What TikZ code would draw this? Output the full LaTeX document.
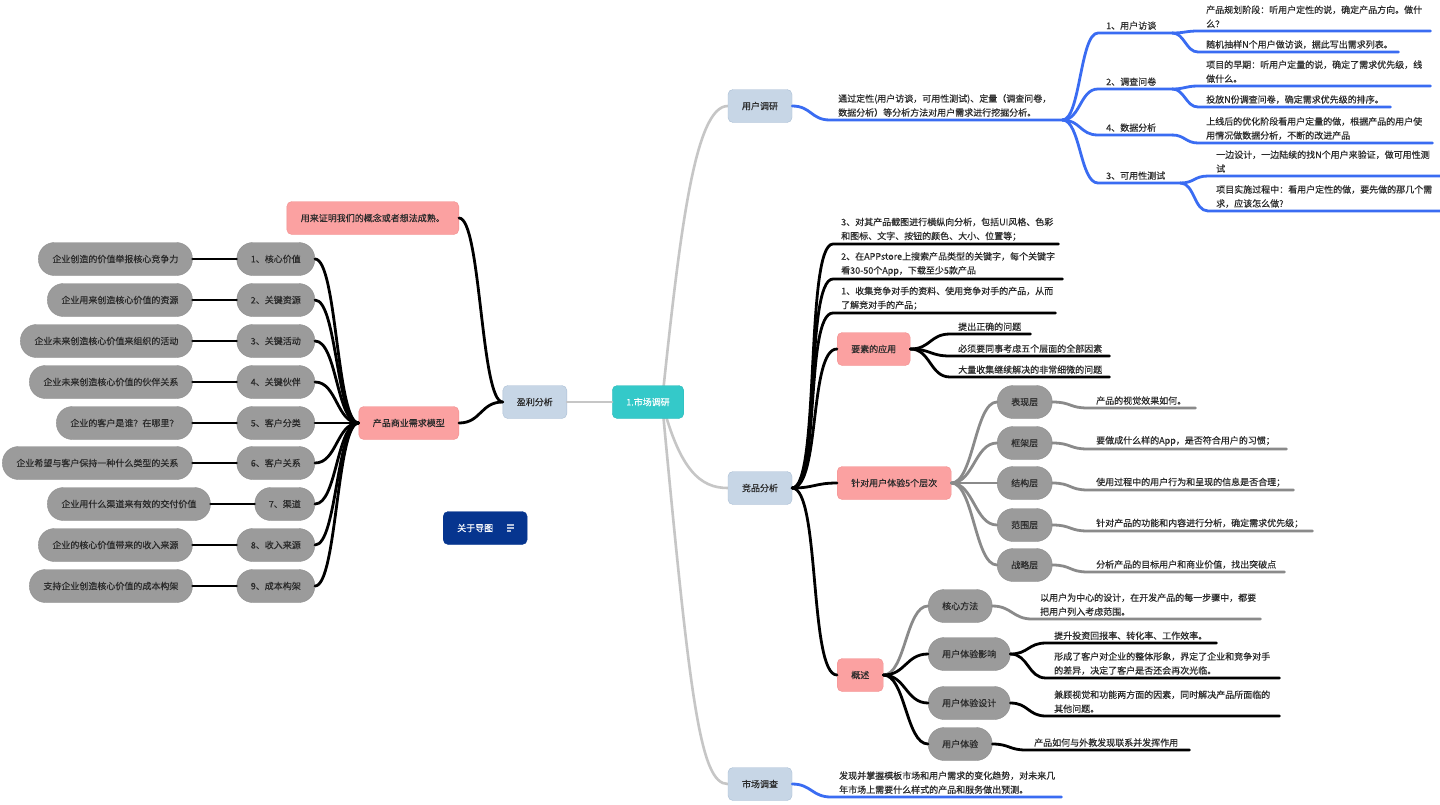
\documentclass[tikz,border=0pt]{standalone}
\usepackage{fontspec}
\setmainfont{Noto Sans CJK SC}[FakeBold=0.4]
\usetikzlibrary{positioning,backgrounds}

\definecolor{cTeal}{HTML}{34C9C9}
\definecolor{cTealE}{HTML}{2CB9B9}
\definecolor{cSlate}{HTML}{C7D6E6}
\definecolor{cSlateE}{HTML}{ABBFD5}
\definecolor{cPink}{HTML}{FBA1A1}
\definecolor{cPinkE}{HTML}{F28F8F}
\definecolor{cPill}{HTML}{9B9B9B}
\definecolor{cPillE}{HTML}{8E8E8E}
\definecolor{cNavy}{HTML}{06358F}
\definecolor{cBlue}{HTML}{3A6CF2}
\definecolor{cLight}{HTML}{C6C6C6}
\definecolor{cMid}{HTML}{8A8A8A}
\definecolor{cText}{HTML}{2B2B2B}

\tikzset{
    box/.style = {rounded corners=5pt, minimum height=33pt, inner xsep=14pt, text=cText},
    rootbox/.style = {box, fill=cTeal, draw=cTealE, text=white},
    mainbox/.style = {box, fill=cSlate, draw=cSlateE},
    pinkbox/.style = {box, fill=cPink, draw=cPinkE},
    navybox/.style = {box, fill=cNavy, draw=cNavy, text=white},
    pill/.style = {box, rounded corners=16pt, fill=cPill, draw=cPillE},
    memo/.style = {anchor=south west, inner xsep=8pt, inner ysep=3pt, align=left, text=cText},
    kline/.style = {line width=2.8pt, line cap=round, black},
    bline/.style = {line width=2.8pt, line cap=round, cBlue},
    mline/.style = {line width=2.8pt, line cap=round, cMid},
    lline/.style = {line width=2.6pt, line cap=round, cLight}
}

\begin{document}
\begin{tikzpicture}[x=1pt, y=-1pt, font=\fontsize{9}{14}\selectfont]
    \useasboundingbox (0,0) rectangle (1440,804);

    % centre row
    \node[rootbox] (mkt) at (648,402) {1.市场调研};
    \node[mainbox] (yl) [left=45pt of mkt] {盈利分析};
    \node[mainbox] (yh) at (760,106) {用户调研};
    \node[mainbox] (jp) at (760,488) {竞品分析};
    \node[mainbox] (sc) at (760,784) {市场调查};
    \coordinate (mktout) at (662,402);

    % business model
    \node[pinkbox, anchor=east] (proof) at (459,218) {用来证明我们的概念或者想法成熟。};
    \node[pinkbox, anchor=east] (model) at (459,423) {产品商业需求模型};
    \node[navybox, anchor=west] (about) at (443,528) {关于导图\hspace{20pt}\null};

    \node[pill, anchor=east] (k1) at (315,259) {1、核心价值};
    \node[pill, left=44pt of k1] (v1) {企业创造的价值举报核心竞争力};
    \node[pill, anchor=east] (k2) at (315,300) {2、关键资源};
    \node[pill, left=44pt of k2] (v2) {企业用来创造核心价值的资源};
    \node[pill, anchor=east] (k3) at (315,341) {3、关键活动};
    \node[pill, left=44pt of k3] (v3) {企业未来创造核心价值来组织的活动};
    \node[pill, anchor=east] (k4) at (315,382) {4、关键伙伴};
    \node[pill, left=44pt of k4] (v4) {企业未来创造核心价值的伙伴关系};
    \node[pill, anchor=east] (k5) at (315,423) {5、客户分类};
    \node[pill, left=44pt of k5] (v5) {企业的客户是谁？在哪里？};
    \node[pill, anchor=east] (k6) at (315,463) {6、客户关系};
    \node[pill, left=44pt of k6] (v6) {企业希望与客户保持一种什么类型的关系};
    \node[pill, anchor=east] (k7) at (315,504) {7、渠道};
    \node[pill, left=44pt of k7] (v7) {企业用什么渠道来有效的交付价值};
    \node[pill, anchor=east] (k8) at (315,545) {8、收入来源};
    \node[pill, left=44pt of k8] (v8) {企业的核心价值带来的收入来源};
    \node[pill, anchor=east] (k9) at (315,586) {9、成本构架};
    \node[pill, left=44pt of k9] (v9) {支持企业创造核心价值的成本构架};

    % user research
    \node[memo, text width=216pt] (urtext) at (830,120) {通过定性(用户访谈，可用性测试)、定量（调查问卷，\\数据分析）等分析方法对用户需求进行挖掘分析。};
    \node[memo, text width=58pt] (ua) at (1098,33) {1、用户访谈};
    \node[memo, text width=58pt] (ub) at (1098,89) {2、调查问卷};
    \node[memo, text width=58pt] (uc) at (1098,135) {4、数据分析};
    \node[memo, text width=66pt] (ud) at (1098,183) {3、可用性测试};
    \node[memo, text width=216pt] (ua1) at (1198,31) {产品规划阶段：听用户定性的说，确定产品方向。做什\\么？};
    \node[memo, text width=184pt] (ua2) at (1198,52) {随机抽样N个用户做访谈，据此写出需求列表。};
    \node[memo, text width=216pt] (ub1) at (1198,86) {项目的早期：听用户定量的说，确定了需求优先级，线\\做什么。};
    \node[memo, text width=176pt] (ub2) at (1198,107) {投放N份调查问卷，确定需求优先级的排序。};
    \node[memo, text width=218pt] (uc1) at (1198,143) {上线后的优化阶段看用户定量的做，根据产品的用户使\\用情况做数据分析，不断的改进产品};
    \node[memo, text width=216pt] (ud1) at (1208,176) {一边设计，一边陆续的找N个用户来验证，做可用性测\\试};
    \node[memo, text width=216pt] (ud2) at (1208,211) {项目实施过程中：看用户定性的做，要先做的那几个需\\求，应该怎么做?};

    % competitor analysis
    \node[memo, text width=209pt] (ca) at (833,244) {3、对其产品截图进行横纵向分析，包括UI风格、色彩\\和图标、文字、按钮的颜色、大小、位置等；};
    \node[memo, text width=213pt] (cb) at (833,279) {2、在APPstore上搜索产品类型的关键字，每个关键字\\看30-50个App，下载至少5款产品};
    \node[memo, text width=206pt] (cc) at (833,313) {1、收集竞争对手的资料、使用竞争对手的产品，从而\\了解竞对手的产品；};
    \node[pinkbox, anchor=west] (ysa) at (837,349) {要素的应用};
    \node[memo, text width=64pt] (ys1) at (950,334) {提出正确的问题};
    \node[memo, text width=143pt] (ys2) at (950,356) {必须要同事考虑五个层面的全部因素};
    \node[memo, text width=143pt] (ys3) at (950,377) {大量收集继续解决的非常细微的问题};

    \node[pinkbox, anchor=west] (zd) at (837,483) {针对用户体验5个层次};
    \node[pill, anchor=west] (p1) at (997,402) {表现层};
    \node[pill, anchor=west] (p2) at (997,443) {框架层};
    \node[pill, anchor=west] (p3) at (997,483) {结构层};
    \node[pill, anchor=west] (p4) at (997,525) {范围层};
    \node[pill, anchor=west] (p5) at (997,565) {战略层};
    \node[memo, text width=91pt] (l1) at (1088,408) {产品的视觉效果如何。};
    \node[memo, text width=182pt] (l2) at (1088,449) {要做成什么样的App，是否符合用户的习惯；};
    \node[memo, text width=189pt] (l3) at (1088,490) {使用过程中的用户行为和呈现的信息是否合理；};
    \node[memo, text width=208pt] (l4) at (1088,531) {针对产品的功能和内容进行分析，确定需求优先级；};
    \node[memo, text width=180pt] (l5) at (1088,572) {分析产品的目标用户和商业价值，找出突破点};

    \node[pinkbox, anchor=west] (gs) at (837,675) {概述};
    \node[pill, anchor=west] (m1) at (928,606) {核心方法};
    \node[pill, anchor=west] (m2) at (928,654) {用户体验影响};
    \node[pill, anchor=west] (m3) at (928,703) {用户体验设计};
    \node[pill, anchor=west] (m4) at (928,744) {用户体验};
    \node[memo, text width=212pt] (m1a) at (1032,619) {以用户为中心的设计，在开发产品的每一步骤中，都要\\把用户列入考虑范围。};
    \node[memo, text width=154pt] (m2a) at (1046,643) {提升投资回报率、转化率、工作效率。};
    \node[memo, text width=217pt] (m2b) at (1046,678) {形成了客户对企业的整体形象，界定了企业和竞争对手\\的差异，决定了客户是否还会再次光临。};
    \node[memo, text width=217pt] (m3a) at (1046,716) {兼顾视觉和功能两方面的因素，同时解决产品所面临的\\其他问题。};
    \node[memo, text width=147pt] (m4a) at (1026,750) {产品如何与外教发现联系并发挥作用};

    % market survey
    \node[memo, text width=214pt] (sca) at (831,797) {发现并掌握模板市场和用户需求的变化趋势，对未来几\\年市场上需要什么样式的产品和服务做出预测。};

    % connectors
    \begin{scope}[on background layer]
        \fill[white] (0,0) rectangle (1440,804);
        \draw[lline] (mktout) .. controls (680,230) and (695,106) .. (yh.west);
        \draw[lline] (mktout) .. controls (680,470) and (700,488) .. (jp.west);
        \draw[lline] (mktout) .. controls (690,700) and (700,784) .. (sc.west);
    \end{scope}
    \draw[lline] (yl.east) -- (mkt.west);

    \draw[kline] (yl.west) .. controls +(-22,0) and +(22,0) .. (proof.east);
    \draw[kline] (yl.west) .. controls +(-22,0) and +(22,0) .. (model.east);
    \draw[kline] (model.west) .. controls +(-22,0) and +(22,0) .. (k1.east);
    \draw[kline] (model.west) .. controls +(-22,0) and +(22,0) .. (k2.east);
    \draw[kline] (model.west) .. controls +(-22,0) and +(22,0) .. (k3.east);
    \draw[kline] (model.west) .. controls +(-22,0) and +(22,0) .. (k4.east);
    \draw[kline] (model.west) .. controls +(-22,0) and +(22,0) .. (k5.east);
    \draw[kline] (model.west) .. controls +(-22,0) and +(22,0) .. (k6.east);
    \draw[kline] (model.west) .. controls +(-22,0) and +(22,0) .. (k7.east);
    \draw[kline] (model.west) .. controls +(-22,0) and +(22,0) .. (k8.east);
    \draw[kline] (model.west) .. controls +(-22,0) and +(22,0) .. (k9.east);
    \draw[kline] (v1.east) -- (k1.west);
    \draw[kline] (v2.east) -- (k2.west);
    \draw[kline] (v3.east) -- (k3.west);
    \draw[kline] (v4.east) -- (k4.west);
    \draw[kline] (v5.east) -- (k5.west);
    \draw[kline] (v6.east) -- (k6.west);
    \draw[kline] (v7.east) -- (k7.west);
    \draw[kline] (v8.east) -- (k8.west);
    \draw[kline] (v9.east) -- (k9.west);

    \draw[bline] (yh.east) .. controls +(19,0) and +(-19,0) .. (urtext.south west) -- (urtext.south east);
    \draw[bline] (urtext.south east) .. controls +(18,0) and +(-18,0) .. (ua.south west) -- (ua.south east);
    \draw[bline] (urtext.south east) .. controls +(18,0) and +(-18,0) .. (ub.south west) -- (ub.south east);
    \draw[bline] (urtext.south east) .. controls +(18,0) and +(-18,0) .. (uc.south west) -- (uc.south east);
    \draw[bline] (urtext.south east) .. controls +(18,0) and +(-18,0) .. (ud.south west) -- (ud.south east);
    \draw[bline] (ua.south east) .. controls +(12,0) and +(-12,0) .. (ua1.south west) -- (ua1.south east);
    \draw[bline] (ua.south east) .. controls +(12,0) and +(-12,0) .. (ua2.south west) -- (ua2.south east);
    \draw[bline] (ub.south east) .. controls +(12,0) and +(-12,0) .. (ub1.south west) -- (ub1.south east);
    \draw[bline] (ub.south east) .. controls +(12,0) and +(-12,0) .. (ub2.south west) -- (ub2.south east);
    \draw[bline] (uc.south east) .. controls +(12,0) and +(-12,0) .. (uc1.south west) -- (uc1.south east);
    \draw[bline] (ud.south east) .. controls +(14,0) and +(-14,0) .. (ud1.south west) -- (ud1.south east);
    \draw[bline] (ud.south east) .. controls +(14,0) and +(-14,0) .. (ud2.south west) -- (ud2.south east);

    \draw[kline] (jp.east) .. controls +(28,0) and +(-28,0) .. (ca.south west) -- (ca.south east);
    \draw[kline] (jp.east) .. controls +(28,0) and +(-28,0) .. (cb.south west) -- (cb.south east);
    \draw[kline] (jp.east) .. controls +(28,0) and +(-28,0) .. (cc.south west) -- (cc.south east);
    \draw[kline] (jp.east) .. controls +(28,0) and +(-28,0) .. (ysa.west);
    \draw[kline] (jp.east) .. controls +(22,0) and +(-22,0) .. (zd.west);
    \draw[kline] (jp.east) .. controls +(28,0) and +(-28,0) .. (gs.west);
    \draw[kline] (ysa.east) .. controls +(20,0) and +(-20,0) .. (ys1.south west) -- (ys1.south east);
    \draw[kline] (ysa.east) .. controls +(20,0) and +(-20,0) .. (ys2.south west) -- (ys2.south east);
    \draw[kline] (ysa.east) .. controls +(20,0) and +(-20,0) .. (ys3.south west) -- (ys3.south east);

    \draw[mline] (zd.east) .. controls +(22,0) and +(-22,0) .. (p1.west);
    \draw[mline] (zd.east) .. controls +(22,0) and +(-22,0) .. (p2.west);
    \draw[mline] (zd.east) .. controls +(22,0) and +(-22,0) .. (p3.west);
    \draw[mline] (zd.east) .. controls +(22,0) and +(-22,0) .. (p4.west);
    \draw[mline] (zd.east) .. controls +(22,0) and +(-22,0) .. (p5.west);
    \draw[mline] (p1.east) .. controls +(19,0) and +(-19,0) .. (l1.south west) -- (l1.south east);
    \draw[mline] (p2.east) .. controls +(19,0) and +(-19,0) .. (l2.south west) -- (l2.south east);
    \draw[mline] (p3.east) .. controls +(19,0) and +(-19,0) .. (l3.south west) -- (l3.south east);
    \draw[mline] (p4.east) .. controls +(19,0) and +(-19,0) .. (l4.south west) -- (l4.south east);
    \draw[mline] (p5.east) .. controls +(19,0) and +(-19,0) .. (l5.south west) -- (l5.south east);

    \draw[mline] (gs.east) .. controls +(22,0) and +(-22,0) .. (m1.west);
    \draw[kline] (gs.east) .. controls +(22,0) and +(-22,0) .. (m2.west);
    \draw[kline] (gs.east) .. controls +(22,0) and +(-22,0) .. (m3.west);
    \draw[kline] (gs.east) .. controls +(22,0) and +(-22,0) .. (m4.west);
    \draw[mline] (m1.east) .. controls +(19,0) and +(-19,0) .. (m1a.south west) -- (m1a.south east);
    \draw[kline] (m2.east) .. controls +(18,0) and +(-18,0) .. (m2a.south west) -- (m2a.south east);
    \draw[kline] (m2.east) .. controls +(18,0) and +(-18,0) .. (m2b.south west) -- (m2b.south east);
    \draw[kline] (m3.east) .. controls +(18,0) and +(-18,0) .. (m3a.south west) -- (m3a.south east);
    \draw[kline] (m4.east) .. controls +(17,0) and +(-17,0) .. (m4a.south west) -- (m4a.south east);

    \draw[bline] (sc.east) .. controls +(19,0) and +(-19,0) .. (sca.south west) -- (sca.south east);

    % note icon
    \draw[white!70!cNavy, line width=1.3pt] ([xshift=-20pt]about.east) ++(0,-3) -- ++(7,0)
        ++(-7,3) -- ++(7,0) ++(-7,3) -- ++(4,0);
\end{tikzpicture}
\end{document}
